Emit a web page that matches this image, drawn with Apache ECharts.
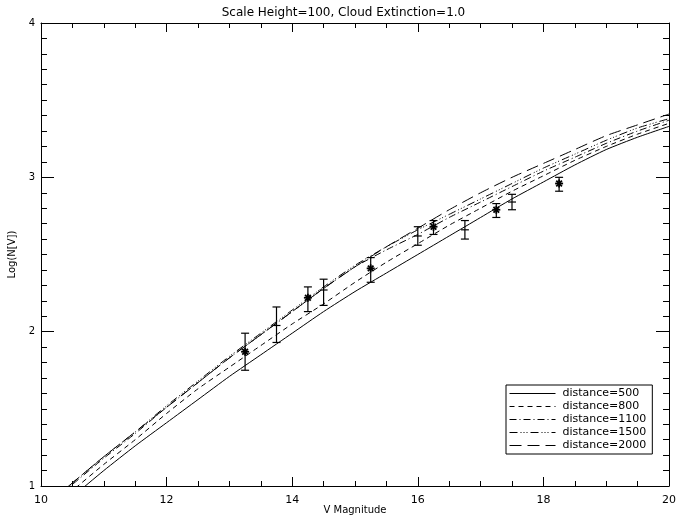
<!DOCTYPE html>
<html>
<head>
<meta charset="utf-8">
<script src="https://cdn.jsdelivr.net/npm/echarts@6/dist/echarts.min.js"></script>
<style>
	html, body { margin: 0; padding: 0; background: #fff; }
	#chart { width: 687px; height: 518px; }
</style>
</head>
<body>
<div id="chart"></div>
<script>
// model curves, one value per magnitude step
let mags = [10, 10.5, 11, 11.5, 12, 12.5, 13, 13.5, 14, 14.5, 15, 15.5, 16, 16.5, 17, 17.5, 18, 18.5, 19, 19.5, 20]
let dist500 = [0.76, 0.93, 1.10, 1.26, 1.41, 1.56, 1.71, 1.85, 1.99, 2.13, 2.26, 2.38, 2.50, 2.62, 2.74, 2.86, 2.97, 3.08, 3.18, 3.26, 3.33]
let dist800 = [0.80, 0.97, 1.14, 1.30, 1.47, 1.63, 1.77, 1.91, 2.05, 2.18, 2.32, 2.45, 2.57, 2.69, 2.80, 2.91, 3.01, 3.11, 3.20, 3.28, 3.35]
let dist1100 = [0.84, 1.01, 1.18, 1.34, 1.51, 1.67, 1.83, 1.98, 2.13, 2.28, 2.42, 2.53, 2.63, 2.74, 2.84, 2.94, 3.04, 3.13, 3.22, 3.30, 3.37]
let dist1500 = [0.85, 1.02, 1.19, 1.35, 1.52, 1.68, 1.84, 1.99, 2.14, 2.29, 2.43, 2.55, 2.66, 2.76, 2.86, 2.96, 3.06, 3.15, 3.24, 3.32, 3.38]
let dist2000 = [0.85, 1.02, 1.19, 1.35, 1.51, 1.67, 1.83, 1.98, 2.13, 2.28, 2.42, 2.55, 2.67, 2.79, 2.90, 3.00, 3.09, 3.18, 3.27, 3.34, 3.41]

// observed counts with error bars
let obsMag = [13.25, 13.75, 14.25, 14.5, 15.25, 16.0, 16.25, 16.75, 17.25, 17.5, 18.25]
let obsVal = [1.87, 2.04, 2.22, 2.27, 2.41, 2.62, 2.68, 2.66, 2.79, 2.84, 2.96]
let obsLo = [1.75, 1.93, 2.13, 2.17, 2.32, 2.56, 2.63, 2.60, 2.74, 2.79, 2.91]
let obsHi = [1.99, 2.16, 2.29, 2.34, 2.48, 2.68, 2.72, 2.72, 2.83, 2.89, 3.00]
let obsKind = ['star', 'plus', 'star', 'plus', 'star', 'plus', 'star', 'plus', 'star', 'plus', 'star']

let legendNames = ['distance=500', 'distance=800', 'distance=1100', 'distance=1500', 'distance=2000']
let curveList = [dist500, dist800, dist1100, dist1500, dist2000]
let dashList = ['solid', [5, 4], [7, 3, 1, 3], [8, 3, 1, 2, 1, 2, 1, 3], [12, 6]]

let fontFam = '"DejaVu Sans", sans-serif'

let myChart = echarts.init(document.getElementById('chart'))

let lineSeries = curveList.map(function (vals, k) {
	return {
		name: legendNames[k],
		type: 'line',
		data: mags.map(function (m, i) { return [m, vals[i]] }),
		symbol: 'none',
		smooth: 0.2,
		clip: true,
		lineStyle: { color: '#000', width: 1, type: dashList[k] },
		itemStyle: { color: '#000' },
		silent: true,
		z: 3
	}
})

let errData = obsMag.map(function (m, i) {
	return [m, obsVal[i], obsLo[i], obsHi[i], obsKind[i] == 'star' ? 1 : 0]
})

function renderErr(params, api) {
	let p = api.coord([api.value(0), api.value(1)])
	let hi = api.coord([api.value(0), api.value(3)])
	let lo = api.coord([api.value(0), api.value(2)])
	let cap = 4
	let st = { stroke: '#000', lineWidth: 1.2 }
	let kids = [
		{ type: 'line', shape: { x1: p[0], y1: hi[1], x2: p[0], y2: lo[1] }, style: st },
		{ type: 'line', shape: { x1: p[0] - cap, y1: hi[1], x2: p[0] + cap, y2: hi[1] }, style: st },
		{ type: 'line', shape: { x1: p[0] - cap, y1: lo[1], x2: p[0] + cap, y2: lo[1] }, style: st }
	]
	let r = 4
	let sym = { stroke: '#000', lineWidth: 1.8 }
	if (api.value(4) == 1) {
		for (let a = 0; a < 4; a++) {
			let ang = a * Math.PI / 4
			let dx = r * Math.cos(ang), dy = r * Math.sin(ang)
			kids.push({ type: 'line', shape: { x1: p[0] - dx, y1: p[1] - dy, x2: p[0] + dx, y2: p[1] + dy }, style: sym })
		}
	} else {
		kids.push({ type: 'line', shape: { x1: p[0] - r, y1: p[1], x2: p[0] + r, y2: p[1] }, style: st })
	}
	return { type: 'group', children: kids }
}

let xTick = { show: true, inside: true, length: 9, lineStyle: { color: '#000' } }
let xMinor = { show: true, splitNumber: 4, length: 5, lineStyle: { color: '#000' } }
let yTick = { show: true, inside: true, length: 13, lineStyle: { color: '#000' } }
let yMinor = { show: true, splitNumber: 10, length: 6, lineStyle: { color: '#000' } }
let axLine = { show: true, onZero: false, lineStyle: { color: '#000', width: 1 } }

let option = {
	animation: false,
	backgroundColor: '#fff',
	title: {
		text: 'Scale Height=100, Cloud Extinction=1.0',
		left: 'center',
		top: 2,
		textStyle: { fontFamily: fontFam, fontSize: 12, fontWeight: 'normal', color: '#000' }
	},
	grid: { left: 41, right: 18, top: 23, bottom: 32, outerBoundsMode: 'none', containLabel: false },
	legend: {
		data: legendNames,
		orient: 'vertical',
		left: 506,
		top: 385,
		width: 143,
		itemWidth: 46,
		itemHeight: 11,
		itemGap: 2,
		padding: [3, 6, 3, 3],
		borderColor: '#000',
		borderWidth: 1,
		borderRadius: 0,
		backgroundColor: '#fff',
		itemStyle: { opacity: 0 },
		lineStyle: { width: 1 },
		textStyle: { fontFamily: fontFam, fontSize: 11, color: '#000', padding: [0, 0, 0, 2] }
	},
	xAxis: [{
		type: 'value',
		min: 10,
		max: 20,
		interval: 2,
		name: 'V Magnitude',
		nameLocation: 'middle',
		nameGap: 19,
		nameMoveOverlap: false,
		nameTextStyle: { fontFamily: fontFam, fontSize: 10, color: '#000' },
		axisLine: axLine,
		axisTick: xTick,
		minorTick: xMinor,
		splitLine: { show: false },
		axisLabel: { fontFamily: fontFam, fontSize: 11, color: '#000', margin: 9 }
	}, {
		type: 'value',
		position: 'top',
		min: 10,
		max: 20,
		interval: 2,
		axisLine: axLine,
		axisTick: xTick,
		minorTick: xMinor,
		splitLine: { show: false },
		axisLabel: { show: false }
	}],
	yAxis: [{
		type: 'value',
		min: 1,
		max: 4,
		interval: 1,
		name: 'Log(N[V])',
		nameLocation: 'middle',
		nameGap: 24,
		nameMoveOverlap: false,
		nameRotate: 90,
		nameTextStyle: { fontFamily: fontFam, fontSize: 10, color: '#000' },
		axisLine: axLine,
		axisTick: yTick,
		minorTick: yMinor,
		splitLine: { show: false },
		axisLabel: { fontFamily: fontFam, fontSize: 10, color: '#000', margin: 6 }
	}, {
		type: 'value',
		position: 'right',
		min: 1,
		max: 4,
		interval: 1,
		axisLine: axLine,
		axisTick: yTick,
		minorTick: yMinor,
		splitLine: { show: false },
		axisLabel: { show: false }
	}],
	series: lineSeries.concat([{
		name: 'observed',
		type: 'custom',
		renderItem: renderErr,
		data: errData,
		encode: { x: 0, y: [1, 2, 3] },
		silent: true,
		z: 4
	}])
}

myChart.setOption(option)
</script>
</body>
</html>
